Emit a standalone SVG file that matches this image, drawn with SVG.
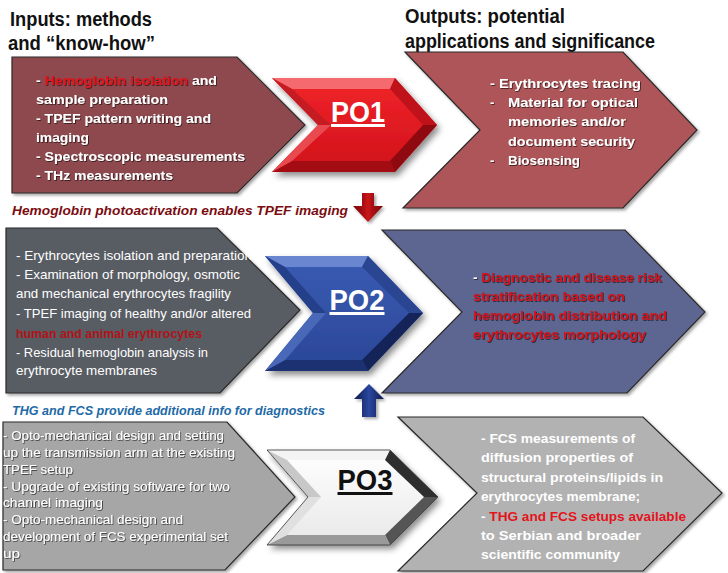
<svg xmlns="http://www.w3.org/2000/svg" width="728" height="573" viewBox="0 0 728 573">
<defs>
<style>
.h{font-family:"Liberation Sans",Arial,sans-serif;font-weight:bold;font-size:20px;fill:#111}
.tb{font-family:"Liberation Sans",Arial,sans-serif;font-weight:bold;font-size:13px;fill:#fff}
.tr{font-family:"Liberation Sans",Arial,sans-serif;font-size:13.5px;fill:#fff}
.tc{font-family:"Liberation Sans",Arial,sans-serif;font-size:13px;fill:#fff}
.red{fill:#e3141c}
.dred{fill:#d0141c}
.it{font-family:"Liberation Sans",Arial,sans-serif;font-weight:bold;font-style:italic;font-size:13px}
.po{font-family:"Liberation Sans",Arial,sans-serif;font-weight:bold;font-size:30px;text-decoration:underline}
.ch{stroke:#2a2a2a;stroke-width:1.2}
</style>
<filter id="sh" x="-10%" y="-10%" width="125%" height="125%">
<feDropShadow dx="2" dy="2" stdDeviation="1.8" flood-color="#000" flood-opacity="0.35"/>
</filter>
<filter id="tsh" x="-5%" y="-30%" width="110%" height="160%">
<feDropShadow dx="0.8" dy="0.8" stdDeviation="0.5" flood-color="#000" flood-opacity="0.7"/>
</filter>
<filter id="psh" x="-15%" y="-15%" width="135%" height="140%">
<feDropShadow dx="3" dy="4" stdDeviation="3" flood-color="#000" flood-opacity="0.45"/>
</filter>
<linearGradient id="rdArrow" x1="0" y1="0" x2="1" y2="0">
<stop offset="0" stop-color="#6e0608"/><stop offset="0.5" stop-color="#c8141a"/><stop offset="1" stop-color="#6e0608"/>
</linearGradient>
<linearGradient id="blArrow" x1="0" y1="0" x2="1" y2="0">
<stop offset="0" stop-color="#0e1a4a"/><stop offset="0.5" stop-color="#2b47a0"/><stop offset="1" stop-color="#0e1a4a"/>
</linearGradient>
<linearGradient id="po1g" x1="0" y1="0" x2="0" y2="1">
<stop offset="0" stop-color="#f0242a"/><stop offset="1" stop-color="#d0121a"/>
</linearGradient>
<linearGradient id="po2g" x1="0" y1="0" x2="0" y2="1">
<stop offset="0" stop-color="#3a5cb4"/><stop offset="1" stop-color="#2a4696"/>
</linearGradient>
<linearGradient id="po3g" x1="0" y1="0" x2="0" y2="1">
<stop offset="0" stop-color="#ffffff"/><stop offset="1" stop-color="#e8e8e8"/>
</linearGradient>
</defs>
<rect width="728" height="573" fill="#fff"/>

<g id="headings">
<text class="h" x="10" y="26" textLength="142" lengthAdjust="spacingAndGlyphs">Inputs: methods</text>
<text class="h" x="8" y="50" textLength="147" lengthAdjust="spacingAndGlyphs">and “know-how”</text>
<text class="h" x="405" y="23" textLength="160" lengthAdjust="spacingAndGlyphs">Outputs:  potential</text>
<text class="h" x="405" y="48" textLength="250" lengthAdjust="spacingAndGlyphs">applications  and significance</text>
</g>

<g id="in1">
<polygon class="ch" filter="url(#sh)" fill="#8e4a4f" points="12,57 237,57 305,125 237,193 12,193"/>
<g filter="url(#tsh)">
<text class="tb" x="36" y="85" textLength="181" lengthAdjust="spacingAndGlyphs">- <tspan class="red">Hemoglobin isolation</tspan> and</text>
<text class="tb" x="36" y="104" textLength="132" lengthAdjust="spacingAndGlyphs">sample preparation</text>
<text class="tb" x="36" y="123" textLength="175" lengthAdjust="spacingAndGlyphs">- TPEF pattern writing and</text>
<text class="tb" x="36" y="142" textLength="53" lengthAdjust="spacingAndGlyphs">imaging</text>
<text class="tb" x="36" y="161" textLength="209" lengthAdjust="spacingAndGlyphs">- Spectroscopic  measurements</text>
<text class="tb" x="36" y="180" textLength="137" lengthAdjust="spacingAndGlyphs">- THz measurements</text>
</g>
</g>

<g id="out1">
<polygon class="ch" filter="url(#sh)" fill="#ad5558" points="405,52 623,52 697,130 623,208 403,208 480,130"/>
<g filter="url(#tsh)">
<text class="tb" x="490" y="88" textLength="151" lengthAdjust="spacingAndGlyphs">-   Erythrocytes tracing</text>
<text class="tb" x="490" y="107">-</text>
<text class="tb" x="508" y="107" textLength="130" lengthAdjust="spacingAndGlyphs">Material for optical</text>
<text class="tb" x="508" y="126" textLength="118" lengthAdjust="spacingAndGlyphs">memories and/or</text>
<text class="tb" x="508" y="146" textLength="127" lengthAdjust="spacingAndGlyphs">document security</text>
<text class="tb" x="490" y="165">-</text>
<text class="tb" x="508" y="165" textLength="72" lengthAdjust="spacingAndGlyphs">Biosensing</text>
</g>
</g>

<g id="in2">
<polygon class="ch" filter="url(#sh)" fill="#585b63" points="6,228 217,228 300,310 220,393 6,393"/>
<g>
<text class="tr" x="16" y="260" textLength="236" lengthAdjust="spacingAndGlyphs">- Erythrocytes isolation and preparation</text>
<text class="tr" x="16" y="279" textLength="224" lengthAdjust="spacingAndGlyphs">- Examination of morphology, osmotic</text>
<text class="tr" x="16" y="298" textLength="215" lengthAdjust="spacingAndGlyphs">and mechanical erythrocytes fragility</text>
<text class="tr" x="16" y="318" textLength="235" lengthAdjust="spacingAndGlyphs">- TPEF imaging  of healthy and/or altered</text>
<text class="tr" x="16" y="338" fill="#b01418" font-weight="bold" textLength="186" lengthAdjust="spacingAndGlyphs" style="fill:#b01418">human and animal erythrocytes</text>
<text class="tr" x="16" y="357" textLength="192" lengthAdjust="spacingAndGlyphs">- Residual hemoglobin analysis in</text>
<text class="tr" x="16" y="375" textLength="141" lengthAdjust="spacingAndGlyphs">erythrocyte membranes</text>
</g>
</g>

<g id="out2">
<polygon class="ch" filter="url(#sh)" fill="#5d6690" points="382,230 625,230 705,312 627,393 382,393 462,312"/>
<g filter="url(#tsh)">
<text class="tb" x="473" y="282" textLength="189" lengthAdjust="spacingAndGlyphs">- <tspan class="dred">Diagnostic and disease risk</tspan></text>
<text class="tb dred" x="473" y="301" textLength="152" lengthAdjust="spacingAndGlyphs">stratification based on</text>
<text class="tb dred" x="473" y="320" textLength="194" lengthAdjust="spacingAndGlyphs">hemoglobin distribution and</text>
<text class="tb dred" x="473" y="339" textLength="173" lengthAdjust="spacingAndGlyphs">erythrocytes morphology</text>
</g>
</g>

<g id="in3">
<polygon class="ch" filter="url(#sh)" fill="#a6a6a6" points="3,422 227,422 295,497 225,570 3,570"/>
<g filter="url(#tsh)">
<text class="tc" x="3" y="440" textLength="221" lengthAdjust="spacingAndGlyphs">- Opto-mechanical design and setting</text>
<text class="tc" x="3" y="457" textLength="232" lengthAdjust="spacingAndGlyphs">up the transmission arm at the existing</text>
<text class="tc" x="3" y="474" textLength="70" lengthAdjust="spacingAndGlyphs">TPEF setup</text>
<text class="tc" x="3" y="491" textLength="227" lengthAdjust="spacingAndGlyphs">- Upgrade of existing  software for two</text>
<text class="tc" x="3" y="507" textLength="100" lengthAdjust="spacingAndGlyphs">channel imaging</text>
<text class="tc" x="3" y="524" textLength="180" lengthAdjust="spacingAndGlyphs">- Opto-mechanical design and</text>
<text class="tc" x="3" y="541" textLength="225" lengthAdjust="spacingAndGlyphs">development of FCS experimental  set</text>
<text class="tc" x="3" y="558" textLength="17" lengthAdjust="spacingAndGlyphs">up</text>
</g>
</g>

<g id="out3">
<polygon class="ch" filter="url(#sh)" fill="#b2b2b2" points="398,417 643,417 722,493 643,571 398,571 477,493"/>
<g>
<text class="tb" x="481" y="443" textLength="154" lengthAdjust="spacingAndGlyphs">- FCS measurements of</text>
<text class="tb" x="481" y="462" textLength="152" lengthAdjust="spacingAndGlyphs">diffusion properties of</text>
<text class="tb" x="481" y="482" textLength="182" lengthAdjust="spacingAndGlyphs">structural proteins/lipids in</text>
<text class="tb" x="481" y="501" textLength="159" lengthAdjust="spacingAndGlyphs">erythrocytes membrane;</text>
<text class="tb" x="481" y="521" textLength="205" lengthAdjust="spacingAndGlyphs">- <tspan class="red">THG and FCS setups available</tspan></text>
<text class="tb" x="481" y="540" textLength="160" lengthAdjust="spacingAndGlyphs">to Serbian  and broader</text>
<text class="tb" x="481" y="559" textLength="139" lengthAdjust="spacingAndGlyphs">scientific community</text>
</g>
</g>

<g id="PO1">
<g filter="url(#psh)">
<polygon fill="url(#po1g)" points="272,78 395,78 437,125 395,172 272,172 318,125"/>
</g>
<polygon fill="#f46a6e" points="272,78 395,78 390,89 292,89"/>
<polygon fill="#c0121a" points="395,78 437,125 423,125 390,89"/>
<polygon fill="#8e0a10" points="437,125 395,172 390,161 423,125"/>
<polygon fill="#a30c12" points="395,172 272,172 292,161 390,161"/>
<polygon fill="#c41c22" points="272,78 318,125 331,125 292,89"/>
<polygon fill="#e84a50" points="318,125 272,172 292,161 331,125"/>
<text class="po" x="358" y="122" fill="#fff" text-anchor="middle" textLength="54" lengthAdjust="spacingAndGlyphs">PO1</text>
</g>

<g id="PO2">
<g filter="url(#psh)">
<polygon fill="url(#po2g)" points="265,256 368,256 423,313 368,371 265,371 313,313"/>
</g>
<polygon fill="#6a86d0" points="265,256 368,256 362,267 285,267"/>
<polygon fill="#2a4592" points="368,256 423,313 409,313 362,267"/>
<polygon fill="#142458" points="423,313 368,371 362,360 409,313"/>
<polygon fill="#1c3172" points="368,371 265,371 285,360 362,360"/>
<polygon fill="#24408a" points="265,256 313,313 326,313 285,267"/>
<polygon fill="#4a68b8" points="313,313 265,371 285,360 326,313"/>
<text class="po" x="357" y="310" fill="#fff" text-anchor="middle" textLength="55" lengthAdjust="spacingAndGlyphs">PO2</text>
</g>

<g id="PO3">
<g filter="url(#psh)">
<polygon fill="url(#po3g)" points="267,450 390,450 438,497 390,545 267,545 308,497"/>
</g>
<polygon fill="#f4f4f4" points="267,450 390,450 385,460 287,460"/>
<polygon fill="#2e2e2e" points="390,450 438,497 424,497 385,460"/>
<polygon fill="#555" points="438,497 390,545 385,535 424,497"/>
<polygon fill="#9a9a9a" points="390,545 267,545 287,535 385,535"/>
<polygon fill="#c8c8c8" points="267,450 308,497 321,497 287,460"/>
<polygon fill="#e0e0e0" points="308,497 267,545 287,535 321,497"/>
<polygon fill="none" stroke="#333" stroke-width="0.8" points="267,450 390,450 438,497 390,545 267,545 308,497"/>
<text class="po" x="365" y="490" fill="#111" text-anchor="middle" textLength="55" lengthAdjust="spacingAndGlyphs">PO3</text>
</g>

<g id="connectors">
<g id="arrow-down" filter="url(#sh)">
<polygon fill="url(#rdArrow)" points="362,193 374,193 374,206 383,206 368,222 353,206 362,206"/>
</g>
<g id="arrow-up" filter="url(#sh)">
<polygon fill="url(#blArrow)" points="369,384 384,399 376,399 376,417 362,417 362,399 354,399"/>
</g>
</g>

<g id="labels">
<text class="it" x="12" y="215" fill="#7b0c10" textLength="336" lengthAdjust="spacingAndGlyphs">Hemoglobin  photoactivation enables TPEF imaging</text>
<text class="it" x="12" y="415" fill="#1e6aa6" textLength="313" lengthAdjust="spacingAndGlyphs">THG and FCS provide additional info for diagnostics</text>
</g>
</svg>
